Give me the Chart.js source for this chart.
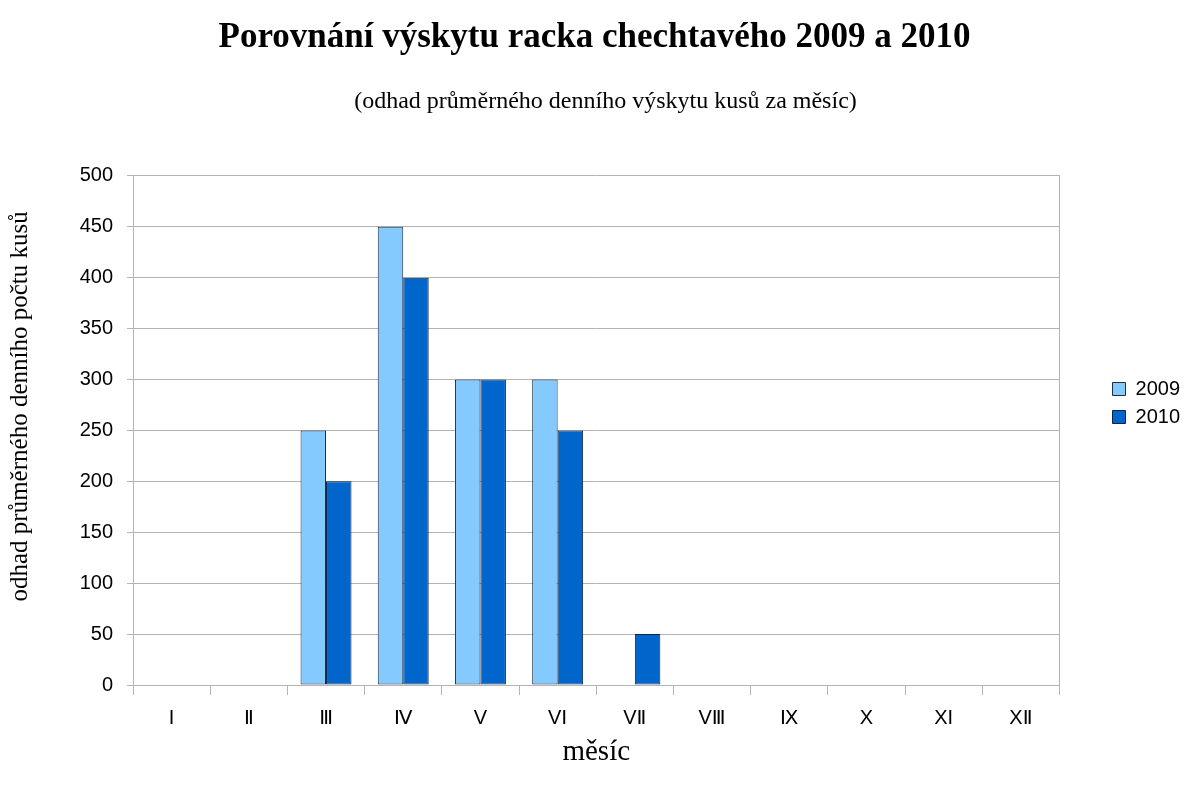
<!DOCTYPE html>
<html lang="cs">
<head>
<meta charset="utf-8">
<title>Porovnání výskytu racka chechtavého 2009 a 2010</title>
<script src="https://cdn.jsdelivr.net/npm/chart.js@4.4.1/dist/chart.umd.min.js"></script>
<style>
  html, body { margin: 0; padding: 0; background: #ffffff; }
  #wrap { width: 1184px; height: 789px; }
</style>
</head>
<body>
<div id="wrap"><canvas id="c" width="1184" height="789"></canvas></div>
<script>
// Months as Roman numerals
const months = ['I', 'Ⅱ', 'Ⅲ', 'Ⅳ', 'V', 'VⅠ', 'VⅡ', 'VⅢ', 'Ⅸ', 'X', 'XI', 'XⅡ'];

// Estimated average daily count per month
const counts2009 = [0, 0, 250, 450, 300, 300, 0, 0, 0, 0, 0, 0];
const counts2010 = [0, 0, 200, 400, 300, 250, 50, 0, 0, 0, 0, 0];

const seriesNames = ['2009', '2010'];

const titleText = 'Porovnání výskytu racka chechtavého 2009 a 2010';
const subtitleText = '(odhad průměrného denního výskytu kusů za měsíc)';
const yTitle = 'odhad průměrného denního počtu kusů';
const xTitle = 'měsíc';

const serif = '"Liberation Serif", "DejaVu Serif", serif';
const sans = '"Liberation Sans", Arial, "DejaVu Sans", sans-serif';
const gridGray = '#b3b3b3';

// Small placement adjustments after layout, plus the rotated y-axis caption
const layoutTweaks = {
  id: 'layoutTweaks',
  afterLayout(chart, args, opts) {
    const lg = chart.legend;
    if (lg) {
      lg.left += opts.legendDx; lg.right += opts.legendDx;
      lg.top += opts.legendDy; lg.bottom += opts.legendDy;
    }
    chart.boxes.forEach((b) => {
      if (b !== lg && b.options && b.options.text === subtitleText) {
        b.left += opts.subtitleDx; b.right += opts.subtitleDx;
      }
    });
  },
  afterDraw(chart, args, opts) {
    const ctx = chart.ctx;
    const area = chart.chartArea;
    ctx.save();
    ctx.translate(opts.yTitleX, (area.top + area.bottom) / 2 + opts.yTitleDy);
    ctx.rotate(-Math.PI / 2);
    ctx.font = '25px ' + serif;
    ctx.fillStyle = '#000000';
    ctx.textAlign = 'center';
    ctx.textBaseline = 'middle';
    ctx.fillText(yTitle, 0, 0);
    ctx.restore();
  }
};

new Chart(document.getElementById('c'), {
  type: 'bar',
  data: {
    labels: months,
    datasets: [
      {
        label: seriesNames[0],
        data: counts2009,
        backgroundColor: '#84caff',
        borderColor: '#1c2f45',
        borderWidth: 1,
        borderSkipped: false
      },
      {
        label: seriesNames[1],
        data: counts2010,
        backgroundColor: '#0066cc',
        borderColor: '#0d2440',
        borderWidth: 1,
        borderSkipped: false
      }
    ]
  },
  plugins: [layoutTweaks],
  options: {
    responsive: false,
    animation: false,
    devicePixelRatio: 1,
    layout: { padding: { left: 5, right: 0, top: 0, bottom: 19 } },
    datasets: {
      bar: { categoryPercentage: 0.66, barPercentage: 1.0 }
    },
    plugins: {
      layoutTweaks: { legendDx: 6, legendDy: 18, subtitleDx: 11, yTitleX: 20, yTitleDy: -24 },
      title: {
        display: true,
        text: titleText,
        color: '#000000',
        font: { family: serif, size: 35, weight: 'bold', lineHeight: 1.2 },
        padding: { top: 17, bottom: 28 }
      },
      subtitle: {
        display: true,
        text: subtitleText,
        color: '#000000',
        font: { family: serif, size: 24, weight: 'normal', lineHeight: 1.2 },
        padding: { top: 0, bottom: 60 }
      },
      legend: {
        position: 'right',
        align: 'center',
        labels: {
          color: '#000000',
          font: { family: sans, size: 20 },
          boxWidth: 13,
          boxHeight: 13,
          padding: 8,
          useBorderRadius: false
        }
      },
      tooltip: { enabled: false }
    },
    scales: {
      x: {
        offset: true,
        grid: {
          display: true,
          offset: true,
          drawOnChartArea: false,
          drawTicks: true,
          tickLength: 10,
          color: gridGray
        },
        border: { display: true, color: gridGray },
        ticks: {
          color: '#000000',
          font: { family: sans, size: 20 },
          padding: 11,
          maxRotation: 0,
          autoSkip: false
        },
        title: {
          display: true,
          text: xTitle,
          color: '#000000',
          font: { family: serif, size: 29 },
          padding: { top: 0, bottom: 0 }
        },
        afterFit: (scale) => { scale.height = 85; }
      },
      y: {
        min: 0,
        max: 500,
        ticks: {
          stepSize: 50,
          color: '#000000',
          font: { family: sans, size: 20 },
          padding: 14
        },
        grid: {
          color: gridGray,
          tickLength: 6,
          drawTicks: true
        },
        border: { display: true, color: gridGray },
        title: { display: false },
        afterFit: (scale) => { scale.width = 128; }
      },
      // spacer on the right: closes the plot frame and keeps the legend apart
      yRight: {
        position: 'right',
        display: true,
        min: 0,
        max: 500,
        ticks: { display: false },
        grid: { display: false, drawOnChartArea: false, drawTicks: false },
        border: { display: true, color: gridGray },
        afterFit: (scale) => { scale.width = 39; }
      }
    }
  }
});
</script>
</body>
</html>
